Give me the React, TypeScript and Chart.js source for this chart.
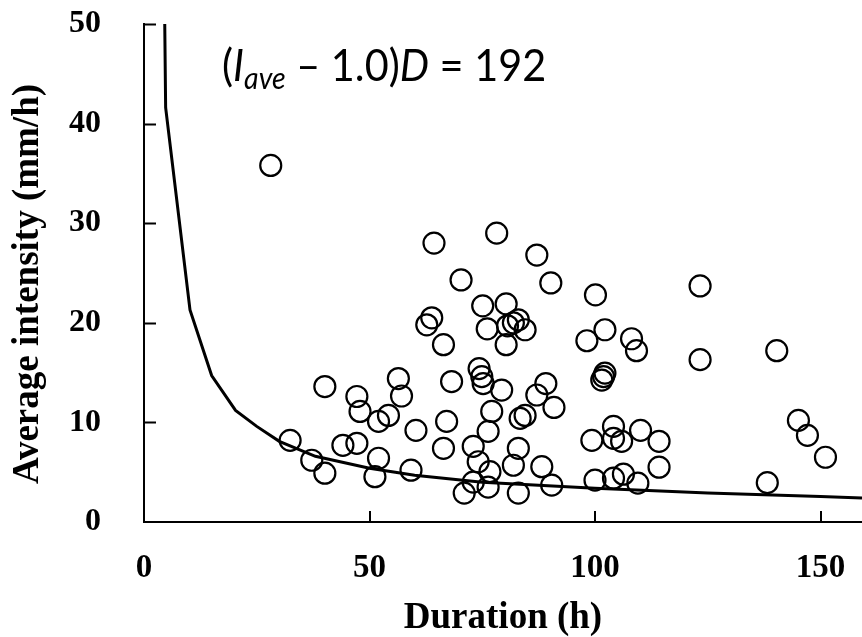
import React, { useEffect, useRef } from "react";
import { Chart, registerables } from "chart.js";

Chart.register(...registerables);

// Observed events: duration (h) and average intensity (mm/h)
const durations = [
  28.1, 64.3, 70.3, 63.8, 62.7, 66.4, 78.2, 87.1, 90.2, 100.1, 123.3, 75.1, 80.3, 76.1,
  80.3, 80.6, 81.9, 83.0, 84.5, 98.2, 102.2, 108.1, 109.2, 123.3, 140.3, 101.5, 101.9,
  102.2, 40.1, 47.2, 47.9, 56.4, 57.1, 52.0, 54.2, 60.3, 68.2, 67.1, 66.4, 74.3, 74.9,
  75.2, 79.3, 77.1, 76.3, 73.0, 74.1, 76.7, 73.0, 71.0, 76.3, 32.4, 37.2, 40.1, 44.1,
  47.2, 52.0, 51.2, 59.2, 83.4, 84.5, 87.1, 89.1, 90.9, 83.0, 81.9, 88.2, 83.0, 90.4,
  99.3, 104.1, 104.1, 105.9, 110.1, 114.2, 114.2, 100.0, 104.1, 106.3, 109.5, 145.1,
  147.1, 151.1, 138.2,
];
const intensities = [
  35.8, 28.0, 24.3, 20.5, 19.8, 17.8, 29.0, 26.8, 24.0, 22.8, 23.7, 21.7, 21.9, 19.4,
  17.8, 19.7, 20.0, 20.3, 19.3, 18.2, 19.3, 18.4, 17.2, 16.3, 17.2, 14.25, 14.6,
  14.95, 13.6, 12.6, 11.1, 14.4, 12.65, 10.1, 10.7, 9.2, 14.1, 10.1, 7.4, 15.4, 14.6,
  13.9, 13.25, 11.1, 9.1, 7.6, 6.05, 5.05, 4.0, 2.9, 3.5, 8.2, 6.2, 4.9, 7.7,
  7.9, 6.4, 4.55, 5.2, 10.4, 10.7, 12.75, 13.9, 11.5, 7.4, 5.7, 5.55, 2.9, 3.7,
  8.2, 9.6, 8.4, 8.1, 9.2, 8.1, 5.5, 4.2, 4.4, 4.8, 3.9, 10.2,
  8.7, 6.5, 3.95,
];

// Threshold curve (I_ave - 1.0) D = 192
const curveD = [4.6, 4.8, 10.2, 15, 20.3, 25, 30, 38, 50, 60, 75, 100, 125, 150, 159.2];
const curveI = [50, 41.6, 21.3, 14.7, 11.2, 9.6, 8.1, 6.6, 5.4, 4.7, 4.0, 3.4, 2.9, 2.55, 2.4];

const xTickValues = [0, 50, 100, 150];
const yTickValues = [0, 10, 20, 30, 40, 50];

const X_MIN = 0;
const X_MAX = 159.2;
const Y_MIN = 0;
const Y_MAX = 50;

const serif = "'Liberation Serif', 'Times New Roman', serif";

const innerTicks = {
  id: "innerTicks",
  afterDraw(chart: any) {
    const { ctx, chartArea, scales } = chart;
    const x = scales.x;
    const y = scales.y;
    ctx.save();
    ctx.strokeStyle = "#000";
    ctx.lineWidth = 2;
    ctx.beginPath();
    xTickValues.forEach((v) => {
      if (v === X_MIN) return;
      const px = Math.round(x.getPixelForValue(v));
      ctx.moveTo(px, chartArea.bottom);
      ctx.lineTo(px, chartArea.bottom - 11);
    });
    yTickValues.forEach((v) => {
      if (v === Y_MIN) return;
      const py = Math.round(y.getPixelForValue(v)) + 0.5;
      ctx.moveTo(chartArea.left, py);
      ctx.lineTo(chartArea.left + 12, py);
    });
    ctx.stroke();

    // y axis title
    ctx.fillStyle = "#000";
    ctx.font = `bold 37px ${serif}`;
    ctx.textAlign = "center";
    ctx.textBaseline = "middle";
    ctx.translate(28, (chartArea.top + chartArea.bottom) / 2 + 11);
    ctx.rotate(-Math.PI / 2);
    ctx.fillText("Average intensity (mm/h)", 0, 0);
    ctx.restore();
  },
};

export default function App() {
  const canvasRef = useRef<HTMLCanvasElement | null>(null);

  useEffect(() => {
    document.body.style.margin = "0";
    const canvas = canvasRef.current;
    if (!canvas) return;

    const chart = new Chart(canvas, {
      type: "scatter",
      data: {
        datasets: [
          {
            type: "line",
            label: "threshold",
            data: curveD.map((d, i) => ({ x: d, y: curveI[i] })),
            borderColor: "#000",
            borderWidth: 3,
            pointRadius: 0,
            fill: false,
            tension: 0,
            order: 1,
          },
          {
            type: "scatter",
            label: "events",
            data: durations.map((d, i) => ({ x: d, y: intensities[i] })),
            borderColor: "#000",
            backgroundColor: "rgba(0,0,0,0)",
            borderWidth: 2.2,
            pointRadius: 10.5,
            pointHoverRadius: 10.5,
            pointStyle: "circle",
            order: 2,
          },
        ],
      },
      options: {
        responsive: false,
        animation: false,
        devicePixelRatio: 1,
        layout: { autoPadding: false, padding: { top: 24, right: 0, left: 0, bottom: 0 } },
        plugins: {
          legend: { display: false },
          tooltip: { enabled: false },
        },
        scales: {
          x: {
            type: "linear",
            min: X_MIN,
            max: X_MAX,
            afterFit: (s: any) => {
              s.height = 115;
              s.paddingLeft = 0;
              s.paddingRight = 0;
            },
            afterBuildTicks: (s: any) => {
              s.ticks = xTickValues.map((v) => ({ value: v }));
            },
            grid: { display: false, drawTicks: false, tickLength: 0 },
            border: { display: true, color: "#000", width: 2 },
            ticks: {
              color: "#000",
              padding: 27,
              maxRotation: 0,
              font: { family: serif, weight: "bold", size: 33 },
            },
            title: {
              display: true,
              text: "Duration (h)",
              color: "#000",
              padding: 0,
              font: { family: serif, weight: "bold", size: 37, lineHeight: 1 },
            },
          },
          y: {
            type: "linear",
            min: Y_MIN,
            max: Y_MAX,
            afterFit: (s: any) => {
              s.width = 144;
              s.paddingTop = 0;
              s.paddingBottom = 0;
            },
            afterBuildTicks: (s: any) => {
              s.ticks = yTickValues.map((v) => ({ value: v }));
            },
            grid: { display: false, drawTicks: false, tickLength: 0 },
            border: { display: true, color: "#000", width: 2 },
            ticks: {
              color: "#000",
              padding: 43,
              font: { family: serif, weight: "bold", size: 32 },
            },
          },
        },
      },
      plugins: [innerTicks],
    } as any);

    return () => {
      chart.destroy();
    };
  }, []);

  return (
    <div style={{ position: "relative", width: 862, height: 637, background: "#fff" }}>
      <canvas ref={canvasRef} width={862} height={637} style={{ width: 862, height: 637, display: "block" }} />
      <div
        style={{
          position: "absolute",
          left: 222,
          top: 42,
          fontFamily: "Lato, 'Open Sans', sans-serif",
          fontSize: 45,
          lineHeight: 1,
          color: "#000",
          whiteSpace: "nowrap",
          transform: "scaleX(0.92)",
          transformOrigin: "0 0",
        }}
      >
        (<i>I</i>
        <sub style={{ fontSize: 31, fontStyle: "italic", verticalAlign: "-0.25em" }}>ave</sub>
        {" \u2013 1.0)"}
        <i>D</i>
        {" = 192"}
      </div>
    </div>
  );
}
